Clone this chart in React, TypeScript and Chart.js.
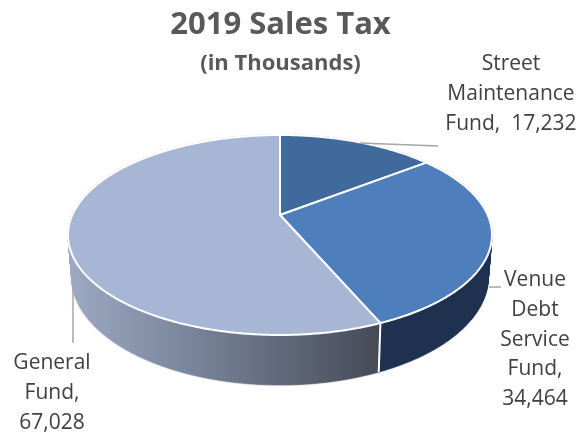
import React, { useEffect, useRef } from "react";
import { Chart, registerables } from "chart.js";

Chart.register(...registerables);

const categories = ["Street Maintenance Fund", "Venue Debt Service Fund", "General Fund"];
const salesTax = [17232, 34464, 67028];
const topColors = ["#3f6a9b", "#4e7fbc", "#a8b6d6"];
const wallColors = ["#233c5a", "#1e3350", "#6f7a90"];
const labelLines = [
  ["Street", "Maintenance", "Fund,  17,232"],
  ["Venue", "Debt", "Service", "Fund,", "34,464"],
  ["General", "Fund,", "67,028"],
];

// Perspective projection of the unit pie disc on the page
const APEX_X = 280;
const APEX_Y = 215;
const RADIUS_X = 207.7;
const RADIUS_Y = 96;
const PERSPECTIVE = 0.2;
const DEPTH = 40;

const projectTop = (angle: number) => {
  const u = Math.cos(angle);
  const v = Math.sin(angle);
  const w = 1 - PERSPECTIVE * v;
  return { x: APEX_X + (RADIUS_X * u) / w, y: APEX_Y + (RADIUS_Y * v) / w };
};
const projectBottom = (angle: number) => {
  const p = projectTop(angle);
  const w = 1 - PERSPECTIVE * Math.sin(angle);
  return { x: APEX_X + (p.x - APEX_X) * 0.983, y: p.y + DEPTH / w };
};
const sample = (a: number, b: number) => {
  const steps = Math.max(2, Math.ceil(Math.abs(b - a) / 0.01));
  const out: number[] = [];
  for (let i = 0; i <= steps; i++) out.push(a + ((b - a) * i) / steps);
  return out;
};

const pie3d = {
  id: "pie3d",
  beforeDatasetDraw(chart: any, args: any) {
    const ctx: CanvasRenderingContext2D = chart.ctx;
    const arcs = args.meta.data;
    ctx.save();
    ctx.lineJoin = "round";

    const full = sample(-Math.PI / 2, (3 * Math.PI) / 2);
    // faint outer outline
    ctx.beginPath();
    full.forEach((a, i) => {
      const p = projectTop(a);
      i ? ctx.lineTo(p.x, p.y) : ctx.moveTo(p.x, p.y);
    });
    ctx.closePath();
    ctx.strokeStyle = "#e6e6e6";
    ctx.lineWidth = 2.5;
    ctx.stroke();
    ctx.beginPath();
    sample(0, Math.PI).forEach((a, i) => {
      const p = projectBottom(a);
      i ? ctx.lineTo(p.x, p.y) : ctx.moveTo(p.x, p.y);
    });
    ctx.stroke();

    // walls
    arcs.forEach((arc: any, i: number) => {
      const angles = sample(arc.startAngle, arc.endAngle);
      ctx.beginPath();
      for (let k = 0; k < angles.length - 1; k++) {
        const a = projectTop(angles[k]);
        const b = projectTop(angles[k + 1]);
        const c = projectBottom(angles[k + 1]);
        const d = projectBottom(angles[k]);
        ctx.moveTo(a.x, a.y);
        ctx.lineTo(b.x, b.y);
        ctx.lineTo(c.x, c.y);
        ctx.lineTo(d.x, d.y);
        ctx.closePath();
      }
      if (i === 2) {
        const g = ctx.createLinearGradient(70, 0, 380, 0);
        g.addColorStop(0, "#9ca9c2");
        g.addColorStop(0.45, "#747f95");
        g.addColorStop(1, "#464a57");
        ctx.fillStyle = g;
        ctx.strokeStyle = g;
      } else {
        ctx.fillStyle = wallColors[i];
        ctx.strokeStyle = wallColors[i];
      }
      ctx.lineWidth = 0.6;
      ctx.fill();
      ctx.stroke();
    });

    // wall separator
    const sep = arcs[1].endAngle;
    const s0 = projectTop(sep);
    const s1 = projectBottom(sep);
    ctx.beginPath();
    ctx.moveTo(s0.x, s0.y);
    ctx.lineTo(s1.x, s1.y);
    ctx.strokeStyle = "#ffffff";
    ctx.lineWidth = 2;
    ctx.stroke();

    // top face
    arcs.forEach((arc: any, i: number) => {
      ctx.beginPath();
      ctx.moveTo(APEX_X, APEX_Y);
      sample(arc.startAngle, arc.endAngle).forEach((a) => {
        const p = projectTop(a);
        ctx.lineTo(p.x, p.y);
      });
      ctx.closePath();
      ctx.fillStyle = topColors[i];
      ctx.fill();
      ctx.strokeStyle = "#ffffff";
      ctx.lineWidth = 2;
      ctx.stroke();
    });
    ctx.restore();
    return false;
  },
  afterDraw(chart: any) {
    const ctx: CanvasRenderingContext2D = chart.ctx;
    ctx.save();
    // leader lines
    ctx.strokeStyle = "#a6a6a6";
    ctx.lineWidth = 1.5;
    const leaders = [
      [[360, 143], [438, 146]],
      [[489, 287], [501, 287]],
      [[73, 279], [73, 343]],
    ];
    leaders.forEach(([a, b]) => {
      ctx.beginPath();
      ctx.moveTo(a[0], a[1]);
      ctx.lineTo(b[0], b[1]);
      ctx.stroke();
    });
    // data labels
    ctx.font = '21px "Open Sans"';
    ctx.fillStyle = "#404040";
    ctx.textAlign = "center";
    ctx.textBaseline = "middle";
    const anchors = [
      [511, 64],
      [535, 280],
      [52, 363],
    ];
    labelLines.forEach((lines, i) => {
      lines.forEach((line, k) => {
        ctx.fillText(line, anchors[i][0], anchors[i][1] + k * 29.8);
      });
    });
    ctx.restore();
  },
};

export default function App() {
  const ref = useRef<HTMLCanvasElement>(null);
  useEffect(() => {
    const chart = new Chart(ref.current as HTMLCanvasElement, {
      type: "pie",
      data: {
        labels: categories,
        datasets: [{ data: salesTax, backgroundColor: topColors, borderColor: "#ffffff" }],
      },
      options: {
        responsive: false,
        animation: false,
        layout: { padding: { top: 7, right: 26 } },
        plugins: {
          legend: { display: false },
          tooltip: { enabled: false },
          title: {
            display: true,
            text: "2019 Sales Tax",
            color: "#595959",
            font: { family: '"Open Sans"', size: 31, weight: "bold" },
            padding: { top: 0, bottom: 0 },
          },
          subtitle: {
            display: true,
            text: "(in Thousands)",
            color: "#595959",
            font: { family: '"Open Sans"', size: 22, weight: "bold" },
            padding: { top: 6, bottom: 0 },
          },
        },
      },
      plugins: [pie3d],
    } as any);
    return () => chart.destroy();
  }, []);
  return (
    <div style={{ position: "absolute", left: 0, top: 0, width: 587, height: 432, background: "#ffffff" }}>
      <canvas ref={ref} width={587} height={432} style={{ display: "block" }} />
    </div>
  );
}
